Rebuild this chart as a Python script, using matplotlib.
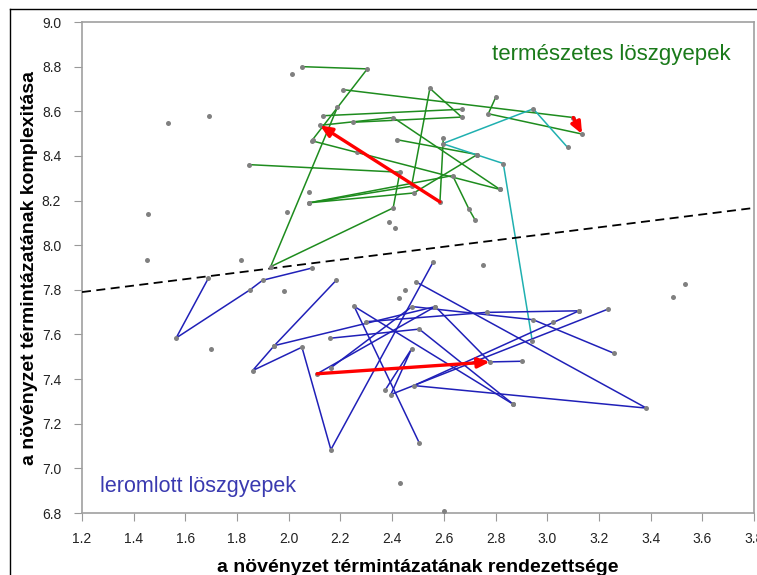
import matplotlib.pyplot as plt
from matplotlib.lines import Line2D

plt.rcParams['font.family'] = ['Liberation Sans', 'DejaVu Sans']

# trajectories (x, y)
green_lines = [
    [(2.052, 8.800), (2.304, 8.790), (2.089, 8.468), (2.817, 8.250)],
    [(2.188, 8.617), (1.930, 7.904), (2.404, 8.167), (2.430, 8.327), (1.847, 8.361)],
    [(2.210, 8.697), (3.101, 8.572)],
    [(2.131, 8.580), (2.669, 8.609)],
    [(2.250, 8.551), (2.669, 8.574), (2.546, 8.703), (2.475, 8.264), (2.079, 8.190),
     (2.484, 8.234), (2.729, 8.406)],
    [(2.079, 8.190), (2.634, 8.312), (2.698, 8.160), (2.722, 8.111)],
    [(2.121, 8.537), (2.404, 8.572), (2.817, 8.250)],
    [(2.417, 8.473), (2.729, 8.406)],
    [(2.598, 8.480), (2.585, 8.194)],
    [(2.802, 8.666), (2.772, 8.589), (3.135, 8.498)],
]

cyan_line = [(3.079, 8.438), (2.946, 8.611), (2.595, 8.455), (2.830, 8.366), (2.942, 7.572)]

blue_lines = [
    [(1.689, 7.852), (1.564, 7.584), (1.850, 7.800), (1.899, 7.843), (2.091, 7.898)],
    [(2.183, 7.842), (1.944, 7.550), (1.860, 7.438), (2.051, 7.543), (2.163, 7.084), (2.559, 7.925)],
    [(1.944, 7.550), (2.567, 7.725), (2.778, 7.477), (2.901, 7.480)],
    [(2.159, 7.583), (2.505, 7.624), (2.869, 7.287)],
    [(2.162, 7.450), (2.477, 7.725), (2.946, 7.666), (3.258, 7.516)],
    [(2.297, 7.657), (2.766, 7.699), (3.123, 7.706)],
    [(2.110, 7.424), (2.567, 7.725)],
    [(2.505, 7.114), (2.253, 7.726), (2.869, 7.287)],
    [(2.492, 7.836), (3.384, 7.270), (2.484, 7.371), (3.123, 7.706)],
    [(2.372, 7.349), (2.475, 7.535), (2.395, 7.331), (3.234, 7.713)],
]

loose_points = [
    (2.012, 8.767), (1.533, 8.546), (1.692, 8.577), (1.457, 8.142), (1.450, 7.933),
    (1.816, 7.935), (1.994, 8.148), (2.079, 8.239), (2.389, 8.105), (2.412, 8.075),
    (2.265, 8.418), (2.752, 7.910), (3.487, 7.766), (3.535, 7.825), (2.430, 6.933),
    (2.600, 6.809), (2.451, 7.800), (2.428, 7.763), (1.981, 7.796), (1.698, 7.535),
    (3.021, 7.656), (2.092, 8.470),
]

# red arrows: (start, end)
red_arrows = [
    ((2.585, 8.194), (2.121, 8.537)),
    ((3.101, 8.572), (3.135, 8.498)),
    ((2.110, 7.424), (2.778, 7.477)),
]

divider_x = [1.2, 3.8]
divider_y = [7.79, 8.167]

xticks = [1.2 + 0.2 * i for i in range(14)]
yticks = [6.8 + 0.2 * i for i in range(12)]

fig = plt.figure(figsize=(7.57, 5.75), dpi=100)
ax = fig.add_axes([0.1083, 0.1078, 0.8877, 0.8539])

green = '#1e8c1e'
blue = '#2020b8'
cyan = '#1fb0b0'
dot = '#808080'

def draw_path(pts, color):
    xs = [p[0] for p in pts]
    ys = [p[1] for p in pts]
    ax.plot(xs, ys, color=color, lw=1.1, zorder=2)
    ax.plot(xs, ys, 'o', ms=3.6, color=dot, mec='none', zorder=4)

for line in green_lines:
    draw_path(line, green)
draw_path(cyan_line, cyan)
for line in blue_lines:
    draw_path(line, blue)

ax.plot([p[0] for p in loose_points], [p[1] for p in loose_points], 'o',
        ms=3.6, color=dot, mec='none', zorder=4)

ax.plot(divider_x, divider_y, color='black', lw=1.3, ls=(0, (5, 3)), zorder=3)

for start, end in red_arrows:
    ax.annotate('', xy=end, xytext=start,
                arrowprops=dict(arrowstyle='-|>,head_length=0.7,head_width=0.3',
                                color='#ff0000', lw=2.4, shrinkA=0, shrinkB=0),
                zorder=5)

ax.text(2.785, 8.855, 'természetes löszgyepek', color='#1a7a1a', fontsize=16,
        ha='left', va='center')
ax.text(1.27, 6.92, 'leromlott löszgyepek', color='#3a3ab0', fontsize=15.5,
        ha='left', va='center')

ax.set_xlim(1.2, 3.8)
ax.set_ylim(6.8, 9.0)
ax.set_xticks(xticks)
ax.set_yticks(yticks)
ax.set_xticklabels(['%.1f' % v for v in xticks])
ax.set_yticklabels(['%.1f' % v for v in yticks])
ax.tick_params(direction='out', length=6, color='#999999', labelsize=10, labelcolor='#222222')
ax.tick_params(axis='y', pad=9)
ax.tick_params(axis='x', pad=8)
for s in ax.spines.values():
    s.set_color('#a0a0a0')
    s.set_linewidth(1.2)

ax.set_xlabel('a növényzet términtázatának rendezettsége', fontsize=14,
              fontweight='bold', labelpad=9)
ax.set_ylabel('a növényzet términtázatának komplexitása', fontsize=14,
              fontweight='bold', labelpad=3)

# outer chart frame, only its left and top edges fall inside the picture
fig.add_artist(Line2D([10 / 757, 10 / 757], [0, 1 - 9 / 575], color='black', lw=1))
fig.add_artist(Line2D([10 / 757, 1], [1 - 9 / 575, 1 - 9 / 575], color='black', lw=1))

fig.savefig('out.png', dpi=100)
